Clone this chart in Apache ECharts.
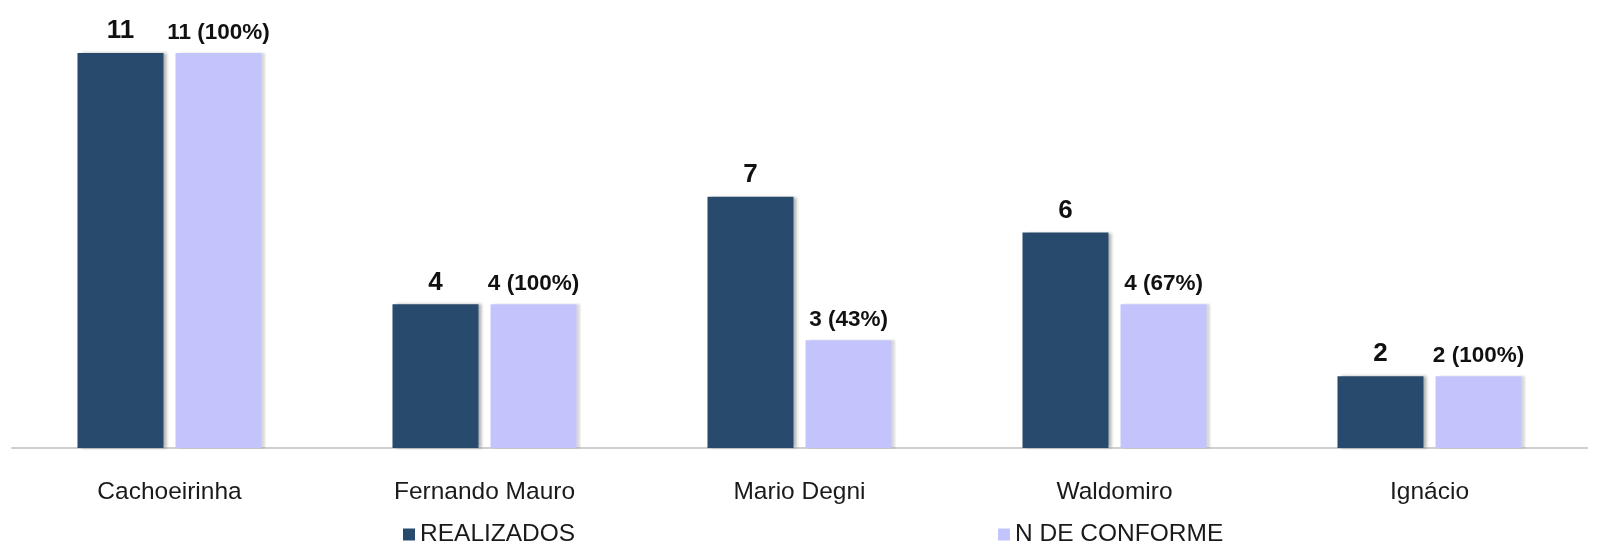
<!DOCTYPE html>
<html>
<head>
<meta charset="utf-8">
<script src="https://cdn.jsdelivr.net/npm/echarts@6/dist/echarts.min.js"></script>
<style>html,body{margin:0;padding:0;background:#fff}#c{width:1597px;height:554px}</style>
</head>
<body>
<div id="c"></div>
<script>
const categories = ['Cachoeirinha', 'Fernando Mauro', 'Mario Degni', 'Waldomiro', 'Ignácio'];
const realizados = [11, 4, 7, 6, 2];
const conforme = [11, 4, 3, 4, 2];
const conformePct = ['100%', '100%', '43%', '67%', '100%'];
const seriesNames = ['REALIZADOS', 'N DE CONFORME'];

const chart = echarts.init(document.getElementById('c'));
const font = '"Liberation Sans", Arial, sans-serif';
chart.setOption({
  animation: false,
  grid: { left: 12, right: 10, top: 53, bottom: 106 },
  legend: [
    { data: [seriesNames[0]], left: 398, top: 517, itemWidth: 12, itemHeight: 12, itemGap: 6,
      textStyle: { fontFamily: font, fontSize: 24.5, color: '#1a1a1a' }, icon: 'rect' },
    { data: [seriesNames[1]], left: 993, top: 517, itemWidth: 12, itemHeight: 12, itemGap: 6,
      textStyle: { fontFamily: font, fontSize: 24.5, color: '#1a1a1a' }, icon: 'rect' }
  ],
  xAxis: {
    type: 'category', data: categories,
    axisLine: { lineStyle: { color: '#cfcfcf', width: 2 } },
    axisTick: { show: false },
    axisLabel: { fontFamily: font, fontSize: 24.5, color: '#1a1a1a', margin: 32 }
  },
  yAxis: { type: 'value', min: 0, max: 11, show: false, splitLine: { show: false } },
  series: [
    { name: seriesNames[0], type: 'bar', data: realizados, barWidth: 86, barGap: '14%',
      itemStyle: { color: '#274A6D', shadowColor: 'rgba(0,0,0,0.3)', shadowOffsetX: 4, shadowBlur: 3 },
      label: { show: true, position: 'top', distance: 9, fontFamily: font, fontSize: 26, fontWeight: 'bold', color: '#111' } },
    { name: seriesNames[1], type: 'bar', data: conforme, barWidth: 86,
      itemStyle: { color: '#C4C4FC', shadowColor: 'rgba(0,0,0,0.15)', shadowOffsetX: 3, shadowBlur: 2 },
      label: { show: true, position: 'top', distance: 9, fontFamily: font, fontSize: 22.5, fontWeight: 'bold', color: '#111',
        formatter: p => p.value + ' (' + conformePct[p.dataIndex] + ')' } }
  ]
});
</script>
</body>
</html>
